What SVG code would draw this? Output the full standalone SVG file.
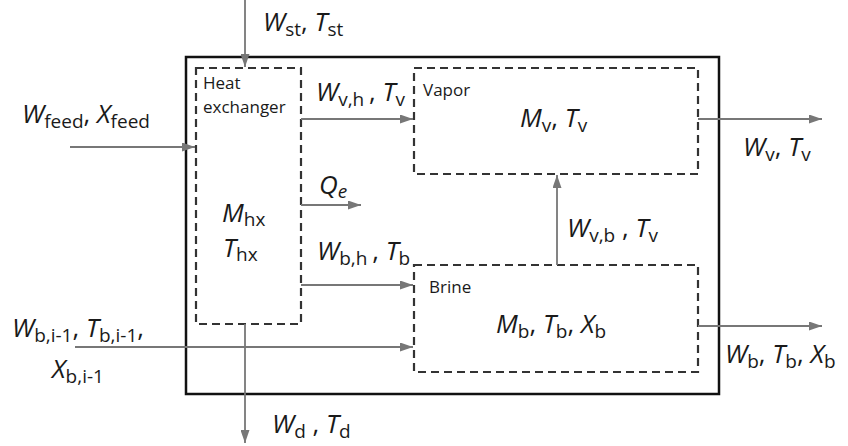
<svg xmlns="http://www.w3.org/2000/svg" width="848" height="446" viewBox="0 0 848 446">
<defs>
<marker id="ah" markerUnits="userSpaceOnUse" markerWidth="13" markerHeight="9" refX="13" refY="4.5" orient="auto">
<path d="M0,0 L13,4.5 L0,9 z" fill="#777"/>
</marker>
<style>
.outer{fill:none;stroke:#111;stroke-width:2.5}
.dash{fill:none;stroke:#333;stroke-width:2.2;stroke-dasharray:8 5}
.flow{fill:none;stroke:#777;stroke-width:1.8;marker-end:url(#ah)}
text{font-family:"Open Sans","Liberation Sans",sans-serif;fill:#1a1a1a}
.lab{font-size:26px}
.i{font-style:italic}
.s{font-size:19px;font-style:normal}
.nm{font-size:17px}
</style>
</defs>
<rect width="848" height="446" fill="#fff"/>
<g id="system"><rect class="outer" x="186" y="57" width="533" height="337"/></g>
<g id="heat-exchanger">
<rect class="dash" x="196" y="68" width="105" height="256"/>
<text class="nm" x="203" y="89">Heat</text>
<text class="nm" x="203" y="113">exchanger</text>
<text class="lab" x="222" y="222"><tspan class="i">M</tspan><tspan class="s" dy="4">hx</tspan></text>
<text class="lab" x="223" y="257"><tspan class="i">T</tspan><tspan class="s" dy="4">hx</tspan></text>
</g>
<g id="vapor">
<rect class="dash" x="414" y="68" width="284" height="106"/>
<text class="nm" x="423" y="96">Vapor</text>
<text class="lab" x="520" y="127"><tspan class="i">M</tspan><tspan class="s" dy="5">v</tspan><tspan dy="-5">, </tspan><tspan class="i">T</tspan><tspan class="s" dy="5">v</tspan></text>
</g>
<g id="brine">
<rect class="dash" x="414" y="265" width="284" height="107"/>
<text class="nm" x="429" y="293">Brine</text>
<text class="lab" x="496" y="333"><tspan class="i">M</tspan><tspan class="s" dy="5">b</tspan><tspan dy="-5">, </tspan><tspan class="i">T</tspan><tspan class="s" dy="5">b</tspan><tspan dy="-5">, </tspan><tspan class="i">X</tspan><tspan class="s" dy="5">b</tspan></text>
</g>
<g id="connectors">
<line class="flow" x1="245" y1="0" x2="245" y2="67"/>
<line class="flow" x1="70" y1="147" x2="195" y2="147"/>
<line class="flow" x1="301" y1="119" x2="413" y2="119"/>
<line class="flow" x1="301" y1="205" x2="361" y2="205"/>
<line class="flow" x1="301" y1="285" x2="413" y2="285"/>
<line class="flow" x1="75" y1="347" x2="413" y2="347"/>
<line class="flow" x1="245" y1="324" x2="245" y2="443"/>
<line class="flow" x1="557" y1="265" x2="557" y2="175"/>
<line class="flow" x1="698" y1="119" x2="822" y2="119"/>
<line class="flow" x1="698" y1="326" x2="822" y2="326"/>
</g>
<g id="labels">
<text class="lab" x="263" y="31"><tspan class="i">W</tspan><tspan class="s" dy="5">st</tspan><tspan dy="-5">, </tspan><tspan class="i">T</tspan><tspan class="s" dy="5">st</tspan></text>
<text class="lab" x="22" y="123"><tspan class="i">W</tspan><tspan class="s" dy="5">feed</tspan><tspan dy="-5">, </tspan><tspan class="i">X</tspan><tspan class="s" dy="5">feed</tspan></text>
<text class="lab" x="316" y="101"><tspan class="i">W</tspan><tspan class="s" dy="5">v,h</tspan><tspan dy="-5" dx="-2"> , </tspan><tspan class="i">T</tspan><tspan class="s" dy="5">v</tspan></text>
<text class="lab" x="319" y="194"><tspan class="i">Q</tspan><tspan class="s" dy="4" style="font-style:italic">e</tspan></text>
<text class="lab" x="317" y="260"><tspan class="i">W</tspan><tspan class="s" dy="5">b,h</tspan><tspan dy="-5" dx="-2"> , </tspan><tspan class="i">T</tspan><tspan class="s" dy="5">b</tspan></text>
<text class="lab" x="567" y="237"><tspan class="i">W</tspan><tspan class="s" dy="5">v,b</tspan><tspan dy="-5"> , </tspan><tspan class="i">T</tspan><tspan class="s" dy="5">v</tspan></text>
<text class="lab" x="743" y="156"><tspan class="i">W</tspan><tspan class="s" dy="5">v</tspan><tspan dy="-5">, </tspan><tspan class="i">T</tspan><tspan class="s" dy="5">v</tspan></text>
<text class="lab" x="725" y="363"><tspan class="i">W</tspan><tspan class="s" dy="5">b</tspan><tspan dy="-5">, </tspan><tspan class="i">T</tspan><tspan class="s" dy="5">b</tspan><tspan dy="-5">, </tspan><tspan class="i">X</tspan><tspan class="s" dy="5">b</tspan></text>
<text class="lab" x="12" y="337"><tspan class="i">W</tspan><tspan class="s" dy="5">b,i-1</tspan><tspan dy="-5">, </tspan><tspan class="i">T</tspan><tspan class="s" dy="5">b,i-1</tspan><tspan dy="-5">,</tspan></text>
<text class="lab" x="52" y="378"><tspan class="i">X</tspan><tspan class="s" dy="5">b,i-1</tspan></text>
<text class="lab" x="272" y="433"><tspan class="i">W</tspan><tspan class="s" dy="5">d</tspan><tspan dy="-5"> , </tspan><tspan class="i">T</tspan><tspan class="s" dy="5">d</tspan></text>
</g>
</svg>
